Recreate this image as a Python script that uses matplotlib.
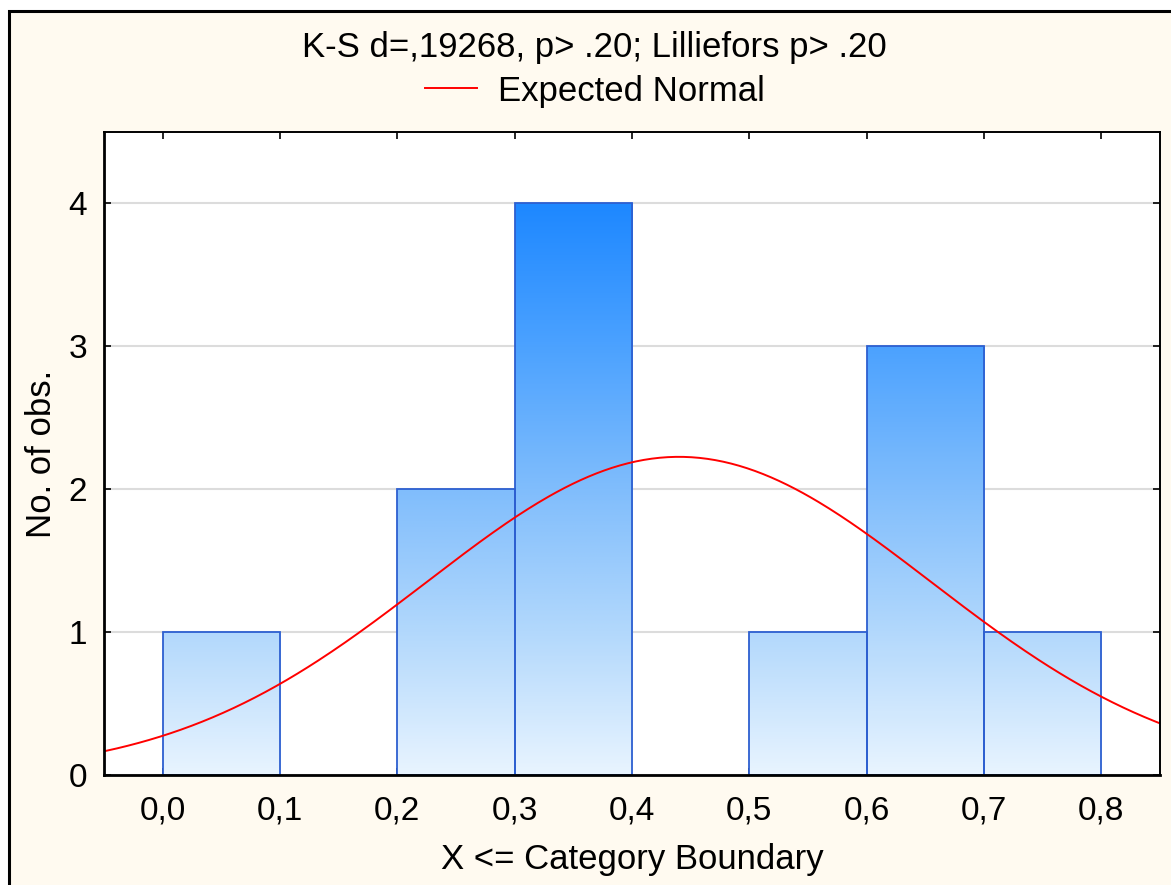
import numpy as np
import matplotlib
matplotlib.use("Agg")
import matplotlib.pyplot as plt
from matplotlib.colors import LinearSegmentedColormap
from matplotlib.lines import Line2D
from matplotlib.patches import Rectangle

plt.rcParams['font.family'] = ['Liberation Sans', 'DejaVu Sans']

# histogram data (bin edges and counts)
bin_left = [0.0, 0.1, 0.2, 0.3, 0.4, 0.5, 0.6, 0.7]
counts = [1, 0, 2, 4, 0, 1, 3, 1]
bin_width = 0.1
n_obs = 12
# expected normal parameters
mu = 0.44
sigma = 0.215

title = "K-S d=,19268, p> .20; Lilliefors p> .20"
xticks = [0.0, 0.1, 0.2, 0.3, 0.4, 0.5, 0.6, 0.7, 0.8]
xticklabels = ["0,0", "0,1", "0,2", "0,3", "0,4", "0,5", "0,6", "0,7", "0,8"]
yticks = [0, 1, 2, 3, 4]

W, H = 1171, 885
fig = plt.figure(figsize=(W / 100, H / 100), dpi=100)
fig.patch.set_facecolor("white")

# cream panel with black frame (runs past the right/bottom edges)
frame = Rectangle((9 / W, -0.05), 1.1, 1 - 11 / H + 0.05, transform=fig.transFigure,
                  facecolor="#fffaf0", edgecolor="black", linewidth=2.2, zorder=-10)
fig.patches.append(frame)

ax = fig.add_axes([104 / W, 1 - 775 / H, 1056 / W, 643 / H])
ax.set_facecolor("white")

# gradient keyed to the y value: pale at 0, saturated at 4
cmap = LinearSegmentedColormap.from_list(
    "bluegrad", ["#e8f4ff", "#b2d8fc", "#80bdfc", "#4ca2ff", "#1e88ff"])

for x0, c in zip(bin_left, counts):
    if c == 0:
        continue
    grad = np.linspace(0, c, 200).reshape(-1, 1)
    ax.imshow(grad, extent=[x0, x0 + bin_width, 0, c], origin="lower", cmap=cmap,
              vmin=0, vmax=4, aspect="auto", zorder=2, interpolation="bilinear")
    ax.add_patch(Rectangle((x0, 0), bin_width, c, facecolor="none",
                           edgecolor="#2d5fd0", linewidth=1.3, zorder=3))

xs = np.linspace(-0.05, 0.85, 400)
ys = n_obs * bin_width / (sigma * np.sqrt(2 * np.pi)) * np.exp(-0.5 * ((xs - mu) / sigma) ** 2)
ax.plot(xs, ys, color="red", linewidth=1.4, zorder=4)

ax.set_xlim(-0.05, 0.85)
ax.set_ylim(0, 4.5)
ax.set_xticks(xticks)
ax.set_xticklabels(xticklabels)
ax.set_yticks(yticks)
ax.yaxis.grid(True, color="#dcdcdc", linewidth=1.5, zorder=0)
ax.set_axisbelow(True)
ax.tick_params(direction="in", top=True, right=True, length=5, width=1.2,
               labelsize=24)
ax.tick_params(axis="x", pad=15)
ax.tick_params(axis="y", pad=12)
for s in ax.spines.values():
    s.set_linewidth(1.4)
    s.set_color("black")
    s.set_zorder(5)
ax.spines["left"].set_linewidth(2)
ax.spines["bottom"].set_linewidth(2)

ax.set_xlabel("X <= Category Boundary", fontsize=25, labelpad=12)
ax.set_ylabel("No. of obs.", fontsize=25, labelpad=8)

fig.text(594 / W, 1 - 47 / H, title, ha="center", va="center", fontsize=25)
fig.legend(handles=[Line2D([], [], color="red", linewidth=1.4)], labels=["Expected Normal"],
           loc="center", bbox_to_anchor=(595 / W, 1 - 91 / H), frameon=False,
           fontsize=25, handlelength=1.5, handletextpad=0.6)

fig.savefig("out.png", dpi=100)
